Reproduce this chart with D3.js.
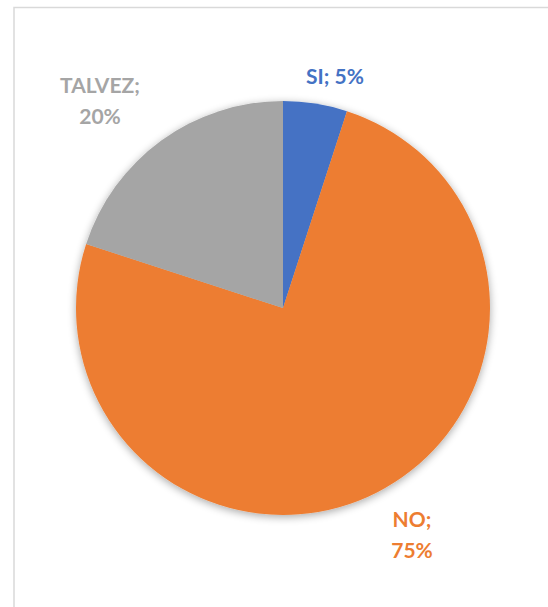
<!DOCTYPE html>
<html>
<head>
<meta charset="utf-8">
<script src="https://cdn.jsdelivr.net/npm/d3@7"></script>
<style>
  html, body { margin: 0; padding: 0; background: #fff; }
  svg { display: block; }
</style>
</head>
<body>
<svg id="chart" width="548" height="607"></svg>
<script>
const categories = ["SI", "NO", "TALVEZ"];
const values = [5, 75, 20];
const colors = ["#4472C4", "#ED7D31", "#A5A5A5"];
const labelLines = [["SI; 5%"], ["NO;", "75%"], ["TALVEZ;", "20%"]];
const labelPos = [[335, 84], [412, 527], [100, 93]];

const svg = d3.select("#chart");
const W = 548, H = 607;

svg.append("rect")
  .attr("x", 14).attr("y", 7.5)
  .attr("width", W + 20).attr("height", H + 20)
  .attr("fill", "#fff")
  .attr("stroke", "#D9D9D9").attr("stroke-width", 1.5);

const defs = svg.append("defs");
const f = defs.append("filter").attr("id", "shadow")
  .attr("x", "-20%").attr("y", "-20%").attr("width", "140%").attr("height", "140%");
f.append("feGaussianBlur").attr("in", "SourceAlpha").attr("stdDeviation", 4).attr("result", "b");
f.append("feOffset").attr("in", "b").attr("dx", 0).attr("dy", 2).attr("result", "o");
f.append("feComponentTransfer").attr("in", "o").attr("result", "s")
  .append("feFuncA").attr("type", "linear").attr("slope", 0.35);
const m = f.append("feMerge");
m.append("feMergeNode").attr("in", "s");
m.append("feMergeNode").attr("in", "SourceGraphic");

const cx = 283, cy = 308, r = 207;
const pie = d3.pie().sort(null).value(d => d)(values);
const arc = d3.arc().innerRadius(0).outerRadius(r);

const g = svg.append("g").attr("transform", `translate(${cx},${cy})`);
g.append("g").attr("filter", "url(#shadow)")
  .selectAll("path").data(pie).join("path")
  .attr("d", arc)
  .attr("fill", (d, i) => colors[i]);

const labels = svg.append("g")
  .attr("font-family", "Lato, 'Open Sans', sans-serif")
  .attr("font-weight", "bold")
  .attr("font-size", 21)
  .attr("text-anchor", "middle");

labelLines.forEach((lines, i) => {
  const t = labels.append("text")
    .attr("x", labelPos[i][0]).attr("y", labelPos[i][1])
    .attr("fill", colors[i]);
  lines.forEach((ln, j) => {
    t.append("tspan").attr("x", labelPos[i][0]).attr("dy", j === 0 ? 0 : 31).text(ln);
  });
});
</script>
</body>
</html>
